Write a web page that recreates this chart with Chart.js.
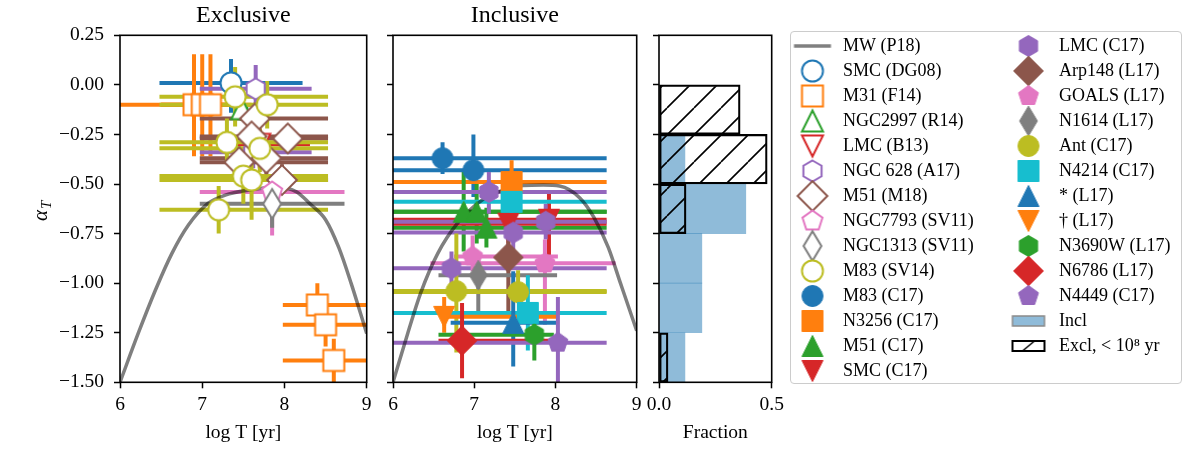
<!DOCTYPE html>
<html>
<head>
<meta charset="utf-8">
<script src="https://cdn.jsdelivr.net/npm/chart.js@4.4.1/dist/chart.umd.min.js"></script>
<style>
  body { margin: 0; background: #fff; }
  #wrap { position: relative; width: 1200px; height: 450px; overflow: hidden; }
  #wrap canvas { position: absolute; top: 0; }
  #legendFrame { position: absolute; left: 790px; top: 31px; width: 392px; height: 353px;
    border: 1.5px solid #cccccc; border-radius: 4px; box-sizing: border-box; }
</style>
</head>
<body>
<div id="wrap">
  <canvas id="excl" width="380" height="450" style="left:0"></canvas>
  <canvas id="incl" width="270" height="450" style="left:380px"></canvas>
  <canvas id="hist" width="150" height="450" style="left:640px"></canvas>
  <div id="legendFrame"></div>
  <canvas id="leg1" width="215" height="360" style="left:784px;top:30px"></canvas>
  <canvas id="leg2" width="190" height="360" style="left:1000px;top:30px"></canvas>
</div>
<script>
// rows: [log T, alpha_T, T low, T high, alpha high, alpha low]

// --- Exclusive panel ---
const smcDG08 = [[7.35, 0.01, 6.48, 8.22, 0.13, -0.14]];
const m31F14 = [
  [6.90, -0.10, 5.70, 7.50, 0.155, -0.36],
  [7.00, -0.10, 6.50, 7.50, 0.155, -0.36],
  [7.10, -0.10, 6.50, 7.60, 0.155, -0.36],
  [8.40, -1.11, 7.98, 9.30, -1.00, -1.17],
  [8.50, -1.21, 7.98, 9.30, -1.15, -1.32],
  [8.60, -1.39, 7.98, 9.30, -1.28, -1.56]
];
const ngc2997R14 = [[7.48, -0.12, 7.40, 7.56, -0.06, -0.18]];
const lmcB13 = [[7.70, -0.30, 7.32, 8.31, -0.22, -0.42]];
const ngc628A17 = [[7.65, -0.02, 6.97, 8.33, 0.10, -0.12], [7.62, -0.34, 6.97, 8.33, -0.26, -0.42]];
const m51M18 = [
  [7.64, -0.17, 6.97, 8.53, -0.09, -0.25],
  [7.60, -0.26, 6.97, 8.53, -0.18, -0.34],
  [8.04, -0.27, 6.97, 8.53, -0.20, -0.34],
  [7.45, -0.39, 6.97, 8.53, -0.31, -0.47],
  [7.78, -0.37, 6.97, 8.53, -0.29, -0.45],
  [7.97, -0.48, 6.97, 8.53, -0.40, -0.55]
];
const ngc7793SV11 = [[7.85, -0.54, 6.97, 8.73, -0.45, -0.76]];
const ngc1313SV11 = [[7.85, -0.60, 6.97, 8.73, -0.52, -0.72]];
const m83SV14 = [
  [7.40, -0.06, 6.48, 8.53, 0.09, -0.21],
  [7.79, -0.10, 6.48, 8.53, 0.02, -0.22],
  [7.30, -0.29, 6.48, 8.53, -0.17, -0.39],
  [7.70, -0.32, 6.48, 8.53, -0.22, -0.44],
  [7.50, -0.46, 6.48, 8.53, -0.34, -0.60],
  [7.60, -0.48, 6.48, 8.53, -0.38, -0.68],
  [7.20, -0.63, 6.48, 8.53, -0.51, -0.75]
];

// --- Inclusive panel ---
const m83C17 = [[6.61, -0.37, 5.9, 8.63, -0.29, -0.45], [6.99, -0.43, 5.9, 8.63, -0.25, -0.565]];
const n3256C17 = [[7.46, -0.49, 5.9, 8.63, -0.38, -0.62]];
const m51C17 = [[6.87, -0.64, 5.9, 8.63, -0.44, -0.84], [7.03, -0.64, 5.9, 8.63, -0.50, -0.80], [7.15, -0.72, 5.9, 8.63, -0.62, -0.82]];
const smcC17 = [[7.42, -0.70, 5.9, 8.63, -0.62, -0.80], [7.92, -0.68, 5.9, 8.63, -0.54, -0.87]];
const lmcC17 = [[7.18, -0.54, 5.9, 8.63, -0.44, -0.65], [7.88, -0.69, 5.9, 8.63, -0.60, -0.78],
                [7.48, -0.745, 5.9, 8.63, -0.66, -0.83], [6.72, -0.925, 5.9, 8.63, -0.84, -1.01]];
const arp148L17 = [[7.42, -0.87, 7.30, 7.55, -0.75, -1.17]];
const goalsL17 = [[6.98, -0.865, 6.75, 8.03, -0.76, -0.94], [7.87, -0.90, 6.46, 8.74, -0.78, -1.21]];
const n1614L17 = [[7.05, -0.96, 6.56, 8.02, -0.87, -1.14]];
const antC17 = [[6.78, -1.04, 5.9, 8.63, -0.75, -1.35], [7.54, -1.045, 5.9, 8.63, -0.935, -1.10]];
const n4214C17 = [[7.46, -0.59, 5.9, 8.63, -0.52, -0.66], [7.66, -1.15, 5.9, 8.63, -0.96, -1.34]];
const starL17 = [[7.48, -1.20, 6.71, 8.01, -0.94, -1.42]];
const daggerL17 = [[6.63, -1.17, 6.63, 8.01, -1.07, -1.25]];
const n3690wL17 = [[7.74, -1.26, 6.56, 7.98, -1.20, -1.39]];
const n6786L17 = [[6.85, -1.29, 6.56, 7.98, -1.10, -1.48]];
const n4449C17 = [[8.03, -1.30, 5.9, 8.63, -1.07, -1.55]];

// MW (P18) curve
const mwExclT = [6.0, 6.22, 6.43, 6.63, 6.83, 7.07, 7.28, 7.58, 7.9, 8.15, 8.31, 8.5, 8.66, 8.81, 9.0];
const mwExclA = [-1.5, -1.255, -1.036, -0.851, -0.708, -0.598, -0.556, -0.53, -0.515, -0.54, -0.60, -0.68, -0.82, -1.0, -1.254];
const mwInclT = [6.0, 6.18, 6.34, 6.55, 6.79, 7.1, 7.4, 7.6, 7.85, 8.05, 8.3, 8.47, 8.65, 8.8, 9.0];
const mwInclA = [-1.5, -1.255, -1.05, -0.851, -0.70, -0.58, -0.525, -0.508, -0.505, -0.51, -0.57, -0.666, -0.82, -1.0, -1.24];

// histogram (fraction per alpha bin)
const binEdges = [0, -0.25, -0.5, -0.75, -1.0, -1.25, -1.5];
const inclFrac = [0, 0.115, 0.385, 0.19, 0.19, 0.115];
const exclFrac = [0.36, 0.48, 0.12, 0, 0, 0.04];

const yTicks = [-1.5, 0.25, 0.25];   // min, max, step
const tTicks = [6, 9, 1];
const fracTicks = [0, 0.5, 0.5];

const C = ['#1f77b4', '#ff7f0e', '#2ca02c', '#d62728', '#9467bd', '#8c564b', '#e377c2', '#7f7f7f', '#bcbd22', '#17becf'];
const FONT = "'Liberation Serif', 'DejaVu Serif', serif";

// label, rows, marker, colour index, filled
const exclSeries = [
  ['SMC (DG08)', smcDG08, 'o', 0, false],
  ['M31 (F14)', m31F14, 's', 1, false],
  ['NGC2997 (R14)', ngc2997R14, '^', 2, false],
  ['LMC (B13)', lmcB13, 'v', 3, false],
  ['NGC 628 (A17)', ngc628A17, 'h', 4, false],
  ['M51 (M18)', m51M18, 'D', 5, false],
  ['NGC7793 (SV11)', ngc7793SV11, 'p', 6, false],
  ['NGC1313 (SV11)', ngc1313SV11, 'd', 7, false],
  ['M83 (SV14)', m83SV14, 'o', 8, false]
];
const inclSeries = [
  ['M83 (C17)', m83C17, 'o', 0, true],
  ['N3256 (C17)', n3256C17, 's', 1, true],
  ['M51 (C17)', m51C17, '^', 2, true],
  ['SMC (C17)', smcC17, 'v', 3, true],
  ['LMC (C17)', lmcC17, 'h', 4, true],
  ['Arp148 (L17)', arp148L17, 'D', 5, true],
  ['GOALS (L17)', goalsL17, 'p', 6, true],
  ['N1614 (L17)', n1614L17, 'd', 7, true],
  ['Ant (C17)', antC17, 'o', 8, true],
  ['N4214 (C17)', n4214C17, 's', 9, true],
  ['* (L17)', starL17, '^', 0, true],
  ['\u2020 (L17)', daggerL17, 'v', 1, true],
  ['N3690W (L17)', n3690wL17, 'h', 2, true],
  ['N6786 (L17)', n6786L17, 'D', 3, true],
  ['N4449 (C17)', n4449C17, 'p', 4, true]
];

Chart.defaults.font.family = FONT;
Chart.defaults.color = '#000';

// matplotlib-like marker drawn onto a small canvas
const MS = 21;
function marker(shape, color, filled) {
  const size = 36;
  const c = document.createElement('canvas');
  c.width = c.height = size;
  const g = c.getContext('2d');
  g.translate(size / 2, size / 2);
  const r = MS / 2;
  g.beginPath();
  if (shape === 'o') {
    g.arc(0, 0, r, 0, Math.PI * 2);
  } else if (shape === 's') {
    g.rect(-r, -r, MS, MS);
  } else if (shape === '^' || shape === 'v') {
    const k = shape === '^' ? 1 : -1;
    g.moveTo(0, -k * r); g.lineTo(-r, k * r); g.lineTo(r, k * r); g.closePath();
  } else if (shape === 'D' || shape === 'd') {
    const h = r * Math.SQRT2;
    const w = shape === 'd' ? h * 0.6 : h;
    g.moveTo(0, -h); g.lineTo(w, 0); g.lineTo(0, h); g.lineTo(-w, 0); g.closePath();
  } else {
    const n = shape === 'h' ? 6 : 5;
    for (let i = 0; i < n; i++) {
      const a = -Math.PI / 2 + i * 2 * Math.PI / n;
      g.lineTo(r * Math.cos(a), r * Math.sin(a));
    }
    g.closePath();
  }
  g.fillStyle = filled ? color : '#fff';
  g.fill();
  g.lineWidth = filled ? 1 : 2;
  g.strokeStyle = color;
  g.stroke();
  return c;
}

function swatch(kind) {
  const c = document.createElement('canvas');
  c.width = 40; c.height = 14;
  const g = c.getContext('2d');
  if (kind === 'line') {
    g.strokeStyle = '#808080'; g.lineWidth = 3.5;
    g.beginPath(); g.moveTo(1.5, 7); g.lineTo(38.5, 7); g.stroke();
  } else if (kind === 'incl') {
    g.fillStyle = 'rgba(31,119,180,0.5)'; g.fillRect(4, 2, 32, 10);
    g.strokeStyle = '#8a8a8a'; g.lineWidth = 1.5; g.strokeRect(4, 2, 32, 10);
  } else {
    g.strokeStyle = '#000'; g.lineWidth = 2; g.strokeRect(4, 2, 32, 10);
    g.lineWidth = 1.5;
    g.beginPath(); g.moveTo(14, 12); g.lineTo(26, 2); g.stroke();
  }
  return c;
}

function hatch(ctx) {
  const s = 27;
  const t = document.createElement('canvas');
  t.width = t.height = s;
  const g = t.getContext('2d');
  g.strokeStyle = '#000'; g.lineWidth = 1.6;
  g.beginPath();
  for (const k of [-1, 0, 1]) { g.moveTo(k * s, s); g.lineTo(k * s + s, 0); }
  g.stroke();
  return ctx.createPattern(t, 'repeat');
}

const fmtAlpha = v => (v < -1e-9 ? '\u2212' : '') + Math.abs(v).toFixed(2);

// error bars under the markers, through the chart's own scales
const errorBars = {
  id: 'errorBars',
  beforeDatasetsDraw(chart) {
    const {ctx, chartArea: a, scales: {x, y}} = chart;
    ctx.save();
    ctx.beginPath();
    ctx.rect(a.left, a.top, a.width, a.height);
    ctx.clip();
    ctx.lineWidth = 4;
    chart.data.datasets.forEach(ds => {
      if (!ds.errs) return;
      ctx.strokeStyle = ds.errColor;
      ds.errs.forEach(r => {
        ctx.beginPath();
        ctx.moveTo(x.getPixelForValue(r[2]), y.getPixelForValue(r[1]));
        ctx.lineTo(x.getPixelForValue(r[3]), y.getPixelForValue(r[1]));
        ctx.moveTo(x.getPixelForValue(r[0]), y.getPixelForValue(r[4]));
        ctx.lineTo(x.getPixelForValue(r[0]), y.getPixelForValue(r[5]));
        ctx.stroke();
      });
    });
    ctx.restore();
  }
};

const spines = {
  id: 'spines',
  afterDatasetsDraw(chart) {
    const {ctx, chartArea: a} = chart;
    ctx.save();
    ctx.strokeStyle = '#000';
    ctx.lineWidth = 1.6;
    ctx.strokeRect(a.left, a.top, a.width, a.height);
    ctx.restore();
  }
};

const alphaLabel = {
  id: 'alphaLabel',
  afterDraw(chart) {
    const ctx = chart.ctx;
    ctx.save();
    ctx.translate(47, 212);
    ctx.rotate(-Math.PI / 2);
    ctx.fillStyle = '#000';
    ctx.font = 'italic 21px ' + FONT;
    ctx.fillText('\u03b1', -9, 0);
    ctx.font = 'italic 15px ' + FONT;
    ctx.fillText('T', 3, 4);
    ctx.restore();
  }
};

function tickGrid() {
  return { drawOnChartArea: false, offset: false, tickLength: 6, tickWidth: 1.5, tickColor: '#000' };
}

function axisT(title, ticks) {
  return {
    type: 'linear', min: ticks[0], max: ticks[1], offset: false,
    ticks: { stepSize: ticks[2], padding: 5, font: { size: 19.5 },
             callback: v => title === 'Fraction' ? v.toFixed(1) : String(v) },
    grid: tickGrid(),
    border: { display: false },
    title: { display: true, text: title, font: { size: 19.5 }, padding: { top: 0, bottom: 5 } },
    afterFit: s => { s.height = 67.7; }
  };
}

function axisAlpha(width, showLabels) {
  return {
    type: 'linear', min: yTicks[0], max: yTicks[1], offset: false,
    ticks: { stepSize: yTicks[2], display: showLabels, padding: 10, font: { size: 19.5 }, callback: fmtAlpha },
    grid: tickGrid(),
    border: { display: false },
    afterFit: s => { s.width = width; }
  };
}

function panelDatasets(series, mwT, mwA) {
  const n = series.length;
  const sets = series.map((s, i) => ({
    label: s[0],
    data: s[1].map(r => ({ x: r[0], y: r[1] })),
    errs: s[1],
    errColor: C[s[3]],
    pointStyle: marker(s[2], C[s[3]], s[4]),
    pointRadius: 12,
    showLine: false,
    order: n - i
  }));
  sets.push({
    label: 'MW (P18)',
    data: mwT.map((t, i) => ({ x: t, y: mwA[i] })),
    showLine: true,
    borderColor: 'rgba(0,0,0,0.5)',
    borderWidth: 3.5,
    pointRadius: 0,
    cubicInterpolationMode: 'monotone',
    order: n + 10
  });
  return sets;
}

function panel(id, title, series, mwT, mwA, yWidth, showLabels, extra) {
  new Chart(document.getElementById(id), {
    type: 'scatter',
    data: { datasets: panelDatasets(series, mwT, mwA) },
    options: {
      responsive: false,
      animation: false,
      events: [],
      layout: { padding: { left: 0, right: 13.3, top: 0, bottom: 0 } },
      scales: { x: axisT('log T [yr]', tTicks), y: axisAlpha(yWidth, showLabels) },
      plugins: {
        legend: { display: false },
        tooltip: { enabled: false },
        title: { display: true, text: title, fullSize: false, font: { size: 24, weight: 'normal' },
                 padding: { top: 1, bottom: 5.5 } }
      }
    },
    plugins: [errorBars, spines].concat(extra)
  });
}

panel('excl', 'Exclusive', exclSeries, mwExclT, mwExclA, 120, true, [alphaLabel]);
panel('incl', 'Inclusive', inclSeries, mwInclT, mwInclA, 10, false, []);

// histogram panel
const histCanvas = document.getElementById('hist');
const binMid = inclFrac.map((v, i) => (binEdges[i] + binEdges[i + 1]) / 2);
new Chart(histCanvas, {
  type: 'bar',
  data: {
    datasets: [
      { label: 'Excl, < 10\u2078 yr', data: exclFrac.map((v, i) => ({ x: v, y: binMid[i] })),
        backgroundColor: hatch(histCanvas.getContext('2d')), borderColor: '#000', borderWidth: 1.6,
        borderSkipped: false, grouped: false, barPercentage: 1, categoryPercentage: 1 },
      { label: 'Incl', data: inclFrac.map((v, i) => ({ x: v, y: binMid[i] })),
        backgroundColor: 'rgba(31,119,180,0.5)', borderWidth: 0,
        grouped: false, barPercentage: 1, categoryPercentage: 1 }
    ]
  },
  options: {
    indexAxis: 'y',
    responsive: false,
    animation: false,
    events: [],
    layout: { padding: { left: 0, right: 18.3, top: 35.3, bottom: 0 } },
    scales: { x: axisT('Fraction', fracTicks), y: axisAlpha(19, false) },
    plugins: { legend: { display: false }, tooltip: { enabled: false } }
  },
  plugins: [spines]
});

// legend, two columns
const legendEntries = [{ text: 'MW (P18)', pointStyle: swatch('line') }]
  .concat(exclSeries.map(s => ({ text: s[0], pointStyle: marker(s[2], C[s[3]], s[4]) })))
  .concat(inclSeries.map(s => ({ text: s[0], pointStyle: marker(s[2], C[s[3]], s[4]) })))
  .concat([{ text: 'Incl', pointStyle: swatch('incl') },
           { text: 'Excl, < 10\u2078 yr', pointStyle: swatch('excl') }]);

function legendChart(id, entries) {
  new Chart(document.getElementById(id), {
    type: 'scatter',
    data: { datasets: [] },
    options: {
      responsive: false,
      animation: false,
      events: [],
      scales: { x: { display: false }, y: { display: false } },
      plugins: {
        tooltip: { enabled: false },
        legend: {
          position: 'left',
          align: 'start',
          maxWidth: 215,
          labels: {
            usePointStyle: true,
            pointStyleWidth: 43,
            padding: 7,
            font: { size: 18 },
            color: '#000',
            generateLabels: () => entries.map((e, i) => ({
              text: e.text, pointStyle: e.pointStyle, fillStyle: '#fff', strokeStyle: '#000',
              lineWidth: 0, hidden: false, fontColor: '#000', datasetIndex: i
            }))
          }
        }
      }
    }
  });
}

legendChart('leg1', legendEntries.slice(0, 14));
legendChart('leg2', legendEntries.slice(14));
</script>
</body>
</html>
